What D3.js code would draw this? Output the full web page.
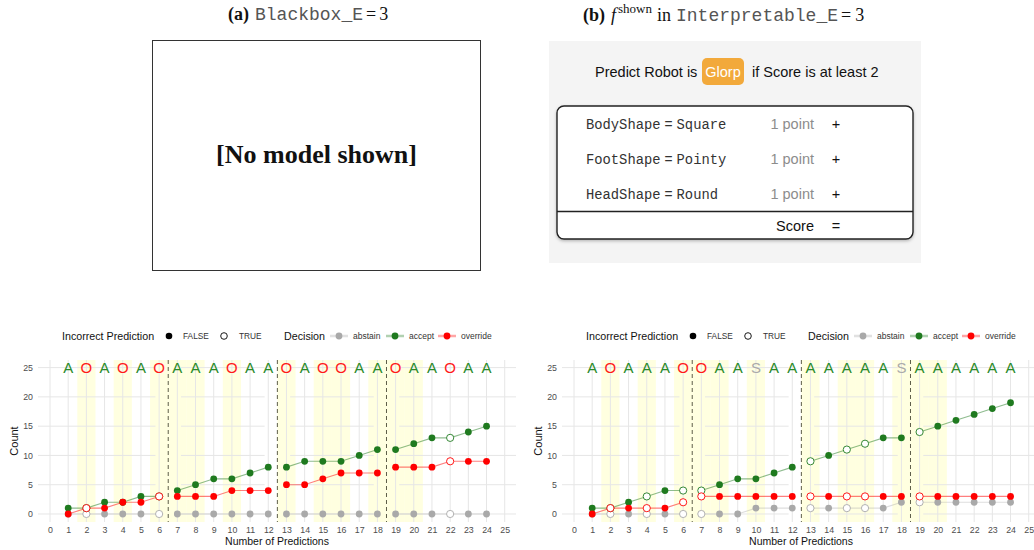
<!DOCTYPE html>
<html><head><meta charset="utf-8">
<script src="https://cdn.jsdelivr.net/npm/d3@7"></script>
<style>body{margin:0;background:#fff}svg{display:block}</style>
</head><body>
<svg id="fig" width="1034" height="550"></svg>
<script>
// ---- data -------------------------------------------------------------
const steps = d3.range(1, 25);              // prediction number 1..24
const blockSize = 6;                        // predictions per block
const highlighted = [2, 4, 6, 7, 8, 10, 13, 15, 16, 18, 19, 20];

// Blackbox_E=3
const bbDecision  = ["A","O","A","O","A","O","A","A","A","O","A","A","O","A","O","O","A","A","O","A","A","O","A","A"];
const bbAccept    = [1,1,2,2,3,3,4,5,6,6,7,8,8,9,9,9,10,11,11,12,13,13,14,15];
const bbOverride  = [0,1,1,2,2,3,3,3,3,4,4,4,5,5,6,7,7,7,8,8,8,9,9,9];
const bbAbstain   = [0,0,0,0,0,0,0,0,0,0,0,0,0,0,0,0,0,0,0,0,0,0,0,0];
const bbIncorrect = [0,1,0,0,0,1,0,0,0,0,0,0,0,0,0,0,0,0,0,0,0,1,0,0];

// Interpretable_E=3
const inDecision  = ["A","O","A","A","A","O","O","A","A","S","A","A","A","A","A","A","A","S","A","A","A","A","A","A"];
const inAccept    = [1,1,2,3,4,4,4,5,6,6,7,8,9,10,11,12,13,13,14,15,16,17,18,19];
const inOverride  = [0,1,1,1,1,2,3,3,3,3,3,3,3,3,3,3,3,3,3,3,3,3,3,3];
const inAbstain   = [0,0,0,0,0,0,0,0,0,1,1,1,1,1,1,1,1,2,2,2,2,2,2,2];
const inIncorrect = [0,1,0,1,0,1,1,0,0,0,0,0,1,0,1,1,0,0,1,0,0,0,0,0];

const xTicks = d3.range(0, 26);
const yTicks = [0, 5, 10, 15, 20, 25];
const decisions = ["abstain", "accept", "override"];
const decisionColor = {abstain: "#a9a9a9", accept: "#1f7a1f", override: "#ff0000"};
const letterColor = {A: "#2a8a2a", O: "#ff1a1a", S: "#aaaaaa"};

// ---- figure -----------------------------------------------------------
const svg = d3.select("#fig");
const SANS = "'Liberation Sans', Arial, sans-serif";
const SERIF = "'Liberation Serif', 'Times New Roman', serif";
const MONO = "'Liberation Mono', 'Courier New', monospace";

const defs = svg.append("defs");
const sh = defs.append("filter").attr("id", "cardShadow")
  .attr("x", "-5%").attr("y", "-10%").attr("width", "110%").attr("height", "125%");
sh.append("feDropShadow").attr("dx", 0).attr("dy", 1.5).attr("stdDeviation", 1.5)
  .attr("flood-color", "#000").attr("flood-opacity", 0.25);

// (a) title and empty box
const ta = svg.append("text").attr("x", 228).attr("y", 20).attr("font-size", 18).attr("fill", "#111");
ta.append("tspan").attr("font-family", SERIF).attr("font-weight", "bold").text("(a)");
ta.append("tspan").attr("font-family", MONO).attr("dx", 6).attr("fill", "#555").text("Blackbox_E");
ta.append("tspan").attr("font-family", SERIF).attr("dx", 3).text("=");
ta.append("tspan").attr("font-family", SERIF).attr("dx", 3).text("3");

svg.append("rect").attr("x", 152.5).attr("y", 40.5).attr("width", 328).attr("height", 230)
  .attr("fill", "#fff").attr("stroke", "#333").attr("stroke-width", 1);
svg.append("text").attr("x", 316.5).attr("y", 163).attr("text-anchor", "middle")
  .attr("font-family", SERIF).attr("font-weight", "bold").attr("font-size", 26).attr("fill", "#111")
  .text("[No model shown]");

// (b) title
const tb = svg.append("text").attr("x", 583).attr("y", 21).attr("font-size", 18).attr("fill", "#111");
tb.append("tspan").attr("font-family", SERIF).attr("font-weight", "bold").text("(b)");
tb.append("tspan").attr("font-family", SERIF).attr("font-style", "italic").attr("dx", 6).text("f");
tb.append("tspan").attr("font-family", SERIF).attr("font-size", 13).attr("dy", -8).attr("dx", 2).text("shown");
tb.append("tspan").attr("font-family", SERIF).attr("dy", 8).attr("dx", 5).text("in");
tb.append("tspan").attr("font-family", MONO).attr("dx", 5).attr("fill", "#555").text("Interpretable_E");
tb.append("tspan").attr("font-family", SERIF).attr("dx", 3).text("=");
tb.append("tspan").attr("font-family", SERIF).attr("dx", 4).text("3");

// model card
svg.append("rect").attr("x", 549).attr("y", 41).attr("width", 372).attr("height", 222).attr("fill", "#f4f4f4");
svg.append("text").attr("x", 595).attr("y", 77).attr("font-family", SANS).attr("font-size", 14.5)
  .attr("fill", "#111").text("Predict Robot is");
svg.append("rect").attr("x", 702).attr("y", 58).attr("width", 42).attr("height", 27).attr("rx", 5)
  .attr("fill", "#f2a93b");
svg.append("text").attr("x", 723).attr("y", 77).attr("text-anchor", "middle").attr("font-family", SANS)
  .attr("font-size", 14.5).attr("fill", "#fff").text("Glorp");
svg.append("text").attr("x", 752).attr("y", 77).attr("font-family", SANS).attr("font-size", 14.5)
  .attr("fill", "#111").text("if Score is at least 2");

svg.append("rect").attr("x", 557).attr("y", 106).attr("width", 356).attr("height", 133).attr("rx", 7)
  .attr("fill", "#fff").attr("stroke", "#222").attr("stroke-width", 1.4).attr("filter", "url(#cardShadow)");
svg.append("line").attr("x1", 557).attr("x2", 913).attr("y1", 211.5).attr("y2", 211.5)
  .attr("stroke", "#222").attr("stroke-width", 1.4);

const rules = [["BodyShape", "Square"], ["FootShape", "Pointy"], ["HeadShape", "Round"]];
const rulePoints = [1, 1, 1];
rules.forEach((r, i) => {
  const y = 129 + i * 35;
  const t = svg.append("text").attr("x", 586).attr("y", y).attr("font-size", 13.8).attr("fill", "#333");
  t.append("tspan").attr("font-family", MONO).text(r[0]);
  t.append("tspan").attr("font-family", SANS).attr("dx", 4).text("=");
  t.append("tspan").attr("font-family", MONO).attr("dx", 4).text(r[1]);
  svg.append("text").attr("x", 814).attr("y", y).attr("text-anchor", "end").attr("font-family", SANS)
    .attr("font-size", 14.5).attr("fill", "#8c8c8c").text(`${rulePoints[i]} point`);
  svg.append("text").attr("x", 836).attr("y", y).attr("text-anchor", "middle").attr("font-family", SANS)
    .attr("font-size", 14.5).attr("fill", "#111").text("+");
});
svg.append("text").attr("x", 814).attr("y", 231).attr("text-anchor", "end").attr("font-family", SANS)
  .attr("font-size", 14.5).attr("fill", "#111").text("Score");
svg.append("text").attr("x", 836).attr("y", 231).attr("text-anchor", "middle").attr("font-family", SANS)
  .attr("font-size", 14.5).attr("fill", "#111").text("=");

// ---- count charts -----------------------------------------------------
function drawChart(cfg) {
  const {left, right, legendX, dec, acc, ovr, abs, inc} = cfg;
  const top = 360, bottom = 522;
  const x = d3.scaleLinear().domain([-0.66, 25.62]).range([left, right]);
  const y = d3.scaleLinear().domain([-1.37, 26.3]).range([bottom, top]);
  const g = svg.append("g");

  const rows = steps.map((s, i) => ({
    step: s, block: Math.floor((s - 1) / blockSize), wrong: inc[i] === 1,
    abstain: abs[i], accept: acc[i], override: ovr[i], letter: dec[i]
  }));
  const bounds = d3.range(1, 4).map(b => b * blockSize + 0.5);

  // highlighted predictions
  g.selectAll(".hl").data(highlighted).join("rect")
    .attr("x", d => x(d - 0.5)).attr("width", d => x(d + 0.5) - x(d - 0.5))
    .attr("y", top).attr("height", bottom - top)
    .attr("fill", "#ffffcc").attr("opacity", 0.6);

  // grid
  g.selectAll(".vg").data(xTicks).join("line")
    .attr("x1", d => x(d)).attr("x2", d => x(d)).attr("y1", top).attr("y2", bottom)
    .attr("stroke", "#e6e6e6").attr("stroke-width", 1);
  const hSegs = [];
  const cuts = [-0.66].concat(...bounds.map(b => [b - 0.7, b + 0.7]), [25.62]);
  yTicks.forEach(v => {
    for (let k = 0; k < cuts.length; k += 2) hSegs.push({v, a: cuts[k], b: cuts[k + 1]});
  });
  g.selectAll(".hg").data(hSegs).join("line")
    .attr("x1", d => x(d.a)).attr("x2", d => x(d.b)).attr("y1", d => y(d.v)).attr("y2", d => y(d.v))
    .attr("stroke", "#e6e6e6").attr("stroke-width", 1);

  // block separators
  g.selectAll(".sep").data(bounds).join("line")
    .attr("x1", d => x(d)).attr("x2", d => x(d)).attr("y1", top).attr("y2", bottom)
    .attr("stroke", "#5e5e48").attr("stroke-width", 1).attr("stroke-dasharray", "4,3");

  // axes
  const ax = g.append("g").attr("transform", `translate(0,${bottom})`)
    .call(d3.axisBottom(x).tickValues(xTicks).tickSize(0).tickPadding(5).tickFormat(d3.format("d")));
  const ay = g.append("g").attr("transform", `translate(${left},0)`)
    .call(d3.axisLeft(y).tickValues(yTicks).tickSize(0).tickPadding(5));
  [ax, ay].forEach(a => {
    a.select(".domain").remove();
    a.selectAll("text").attr("font-family", SANS).attr("font-size", 8.8).attr("fill", "#4d4d4d");
  });
  g.append("text").attr("transform", `translate(${left - 24},${(top + bottom) / 2})` + " rotate(-90)")
    .attr("text-anchor", "middle").attr("dy", "0.35em").attr("font-family", SANS).attr("font-size", 11)
    .attr("fill", "#111").text("Count");
  g.append("text").attr("x", (left + right) / 2).attr("y", 545).attr("text-anchor", "middle")
    .attr("font-family", SANS).attr("font-size", 10.5).attr("fill", "#111").text("Number of Predictions");

  // decision letters
  g.selectAll(".let").data(rows).join("text")
    .attr("x", d => x(d.step)).attr("y", y(25)).attr("dy", "0.36em").attr("text-anchor", "middle")
    .attr("font-family", SANS).attr("font-size", 15).attr("fill", d => letterColor[d.letter])
    .text(d => d.letter);

  // lines, one per block
  const line = k => d3.line().x(d => x(d.step)).y(d => y(d[k]));
  decisions.forEach(k => {
    d3.groups(rows, d => d.block).forEach(([, pts]) => {
      g.append("path").datum(pts).attr("d", line(k)).attr("fill", "none")
        .attr("stroke", decisionColor[k]).attr("stroke-opacity", k === "abstain" ? 0.4 : 0.5)
        .attr("stroke-width", 1.1);
    });
  });
  // points
  decisions.forEach(k => {
    g.selectAll(".pt-" + k).data(rows).join("circle")
      .attr("cx", d => x(d.step)).attr("cy", d => y(d[k])).attr("r", d => d.wrong ? 3.6 : 3.4)
      .attr("fill", d => d.wrong ? "#fff" : decisionColor[k])
      .attr("stroke", d => d.wrong ? decisionColor[k] : "none")
      .attr("stroke-width", 0.9);
  });

  // legend
  const lg = svg.append("g").attr("transform", `translate(${legendX},336)`);
  const lt = (xx, s, size, col) => lg.append("text").attr("x", xx).attr("dy", "0.35em")
    .attr("font-family", SANS).attr("font-size", size).attr("fill", col).text(s);
  lt(0, "Incorrect Prediction", 10.7, "#111");
  lg.append("circle").attr("cx", 107).attr("r", 3.3).attr("fill", "#000");
  lt(121, "FALSE", 8.3, "#333");
  lg.append("circle").attr("cx", 162).attr("r", 3.3).attr("fill", "#fff").attr("stroke", "#000").attr("stroke-width", 0.9);
  lt(177, "TRUE", 8.3, "#333");
  lt(222, "Decision", 10.7, "#111");
  [[277, "abstain"], [333, "accept"], [385, "override"]].forEach(([cx, k]) => {
    lg.append("line").attr("x1", cx - 9).attr("x2", cx + 9).attr("stroke", decisionColor[k])
      .attr("stroke-opacity", 0.35).attr("stroke-width", 2.5);
    lg.append("circle").attr("cx", cx).attr("r", 3.4).attr("fill", decisionColor[k]);
    lt(cx + 14, k, 8.5, "#333");
  });
}

drawChart({left: 38, right: 516, legendX: 62,
  dec: bbDecision, acc: bbAccept, ovr: bbOverride, abs: bbAbstain, inc: bbIncorrect});
drawChart({left: 562, right: 1040, legendX: 586,
  dec: inDecision, acc: inAccept, ovr: inOverride, abs: inAbstain, inc: inIncorrect});
</script>
</body></html>
